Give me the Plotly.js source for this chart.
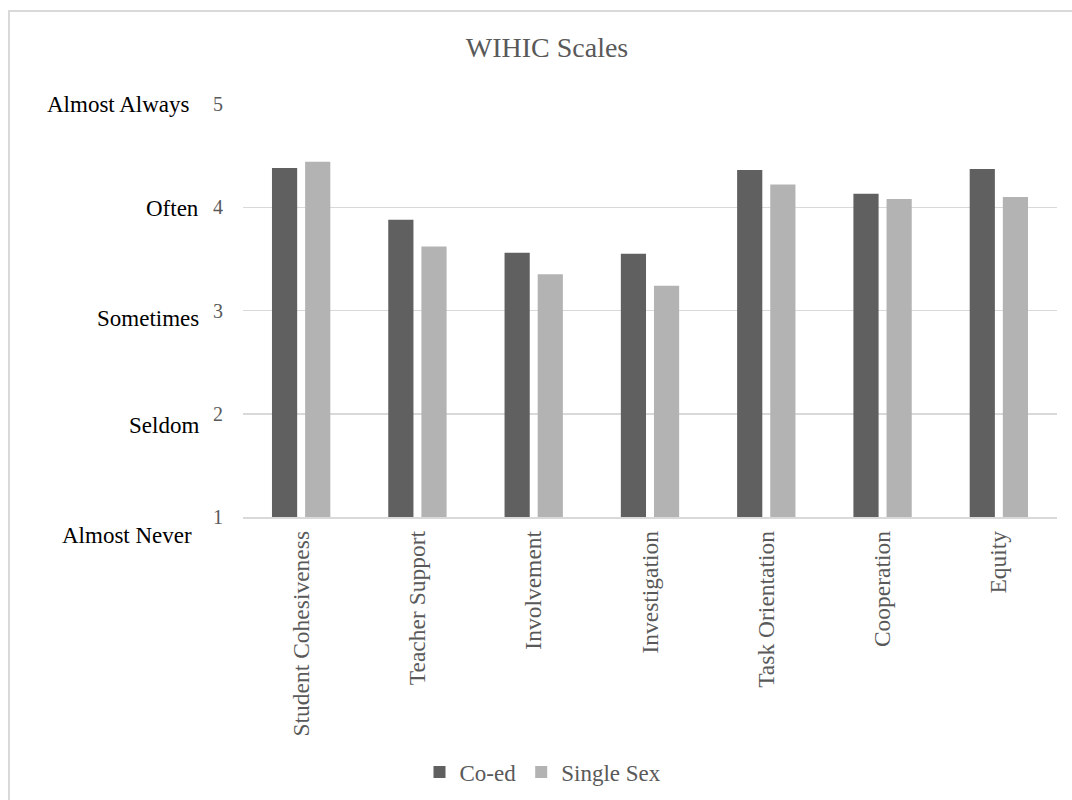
<!DOCTYPE html>
<html>
<head>
<meta charset="utf-8">
<script src="https://cdn.plot.ly/plotly-3.0.1.min.js"></script>
<style>
  html, body { margin: 0; padding: 0; background: #ffffff; }
  #wrap { position: relative; width: 1072px; height: 800px; overflow: hidden; }
  #chart { position: absolute; left: 0; top: 0; width: 1072px; height: 800px; }
  #frame {
    position: absolute; left: 8px; top: 10px; width: 1080px; height: 800px;
    border-left: 2px solid #d9d9d9; border-top: 2px solid #d9d9d9;
    pointer-events: none;
  }
</style>
</head>
<body>
<div id="wrap">
  <div id="chart"></div>
  <div id="frame"></div>
</div>
<script>
// WIHIC scale means by school type
const scales = [
  "Student Cohesiveness", "Teacher Support", "Involvement", "Investigation",
  "Task Orientation", "Cooperation", "Equity"
];
const coEd = [4.38, 3.88, 3.56, 3.55, 4.36, 4.13, 4.37];
const singleSex = [4.44, 3.62, 3.35, 3.24, 4.22, 4.08, 4.10];

// Response scale: numeric value and its verbal anchor
const scoreTicks = [1, 2, 3, 4, 5];
const scoreWords = ["Almost Never", "Seldom", "Sometimes", "Often", "Almost Always"];

// Vertical nudge (px) and right-edge offset (px) of each verbal anchor
const wordDrop = [18, 11.5, 7.5, 1.5, 0];
const wordInset = [49, 42, 42, 42, 51];

const serif = "Liberation Serif, Times New Roman, Times, serif";
const grey = "#595959";

const traces = [
  { type: "bar", name: "Co-ed", x: scales, y: coEd,
    marker: { color: "#606060" } },
  { type: "bar", name: "Single Sex", x: scales, y: singleSex,
    marker: { color: "#b3b3b3" } }
];

const annotations = scoreWords.map((w, i) => ({
  text: w, xref: "paper", yref: "y", x: 0, y: scoreTicks[i],
  xanchor: "right", yanchor: "middle",
  xshift: -wordInset[i], yshift: -wordDrop[i],
  showarrow: false,
  font: { family: serif, size: 23, color: "#000000" }
}));

const layout = {
  width: 1072, height: 800,
  margin: { l: 243, r: 15, t: 104, b: 283 },
  paper_bgcolor: "#ffffff", plot_bgcolor: "#ffffff",
  font: { family: serif, color: grey },
  title: {
    text: "WIHIC Scales",
    font: { family: serif, size: 28, color: grey },
    xref: "container", x: 547 / 1072, xanchor: "center",
    yref: "container", y: 1 - 47 / 800, yanchor: "middle"
  },
  barmode: "group", bargap: 0.43, bargroupgap: 0.24,
  xaxis: {
    type: "category", tickangle: -90,
    tickfont: { family: serif, size: 23.5, color: grey },
    showgrid: false, showline: true, linecolor: "#d9d9d9", linewidth: 1.5,
    ticks: "", ticklabelstandoff: 3, fixedrange: true
  },
  yaxis: {
    range: [1, 5], tickvals: scoreTicks, ticktext: scoreTicks.map(String),
    tickfont: { family: serif, size: 20, color: grey },
    showgrid: true, gridcolor: "#d9d9d9", gridwidth: 1.5,
    zeroline: false, showline: false, ticks: "", ticklabelstandoff: 19,
    fixedrange: true
  },
  showlegend: true,
  legend: {
    orientation: "h",
    xref: "container", x: 543 / 1072, xanchor: "center",
    yref: "container", y: 1 - 772 / 800, yanchor: "middle",
    font: { family: serif, size: 23, color: grey },
    itemwidth: 30, traceorder: "normal"
  },
  annotations: annotations
};

Plotly.newPlot("chart", traces, layout, { displayModeBar: false, staticPlot: true });
</script>
</body>
</html>
